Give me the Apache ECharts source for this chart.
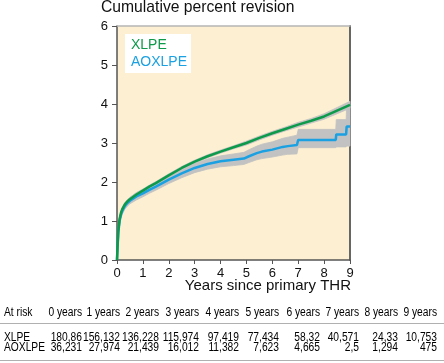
<!DOCTYPE html>
<html>
<head>
<meta charset="utf-8">
<script src="https://cdn.jsdelivr.net/npm/echarts@6/dist/echarts.min.js"></script>
<style>
html,body{margin:0;padding:0;background:#fff;}
#c{width:444px;height:363px;}
</style>
</head>
<body>
<div id="c"></div>
<script>
// ---- data ----
var greenX  = [0,0.02,0.05,0.1,0.15,0.2,0.3,0.4,0.5,0.75,1,1.25,1.5,2,2.5,3,3.5,4,4.5,5,5.5,6,6.5,7,7.5,8,8.5,9];
var greenY  = [0,0.35,0.75,1.05,1.2,1.3,1.42,1.5,1.56,1.68,1.78,1.88,1.97,2.17,2.36,2.52,2.66,2.78,2.89,3.0,3.13,3.25,3.36,3.47,3.57,3.68,3.83,3.98];
var greenLo = [0,0.32,0.7,1.0,1.15,1.25,1.37,1.45,1.51,1.63,1.74,1.84,1.93,2.13,2.32,2.48,2.62,2.74,2.85,2.95,3.08,3.2,3.31,3.41,3.51,3.61,3.75,3.89];
var greenHi = [0,0.38,0.8,1.1,1.25,1.35,1.47,1.55,1.61,1.73,1.82,1.92,2.01,2.21,2.4,2.56,2.7,2.82,2.93,3.05,3.18,3.3,3.41,3.53,3.63,3.75,3.91,4.07];

var blueX  = [0,0.02,0.05,0.1,0.15,0.2,0.3,0.4,0.5,0.75,1,1.25,1.5,2,2.5,3,3.5,4,4.5,4.9,5.1,5.4,5.6,6,6.4,6.6,6.95,7.0,8.45,8.47,8.85,8.87,9];
var blueY  = [0,0.3,0.7,1.0,1.15,1.25,1.38,1.46,1.52,1.63,1.71,1.8,1.88,2.06,2.22,2.36,2.46,2.53,2.57,2.6,2.66,2.74,2.78,2.83,2.9,2.92,2.95,3.08,3.08,3.22,3.22,3.42,3.42];
var blueLo = [0,0.26,0.64,0.93,1.07,1.17,1.3,1.38,1.44,1.54,1.62,1.71,1.79,1.96,2.11,2.24,2.33,2.39,2.42,2.45,2.5,2.57,2.6,2.64,2.69,2.71,2.72,2.88,2.88,2.9,2.9,2.92,2.92];
var blueHi = [0,0.34,0.76,1.07,1.23,1.33,1.46,1.54,1.6,1.72,1.8,1.89,1.97,2.16,2.33,2.48,2.59,2.67,2.72,2.76,2.83,2.92,2.97,3.03,3.12,3.15,3.2,3.35,3.35,3.6,3.6,3.95,3.95];

var xTicks = [0,1,2,3,4,5,6,7,8,9];
var yTicks = [0,1,2,3,4,5,6];

var atRiskHeaders = ['0 years','1 years','2 years','3 years','4 years','5 years','6 years','7 years','8 years','9 years'];
var xlpeAtRisk   = ['180,86','156,132','136,228','115,974','97,419','77,434','58,32','40,571','24,33','10,753'];
var aoxlpeAtRisk = ['36,231','27,974','21,439','16,012','11,382','7,623','4,665','2,5','1,294','475'];

// ---- build ----
function pairs(xs, ys){ return xs.map(function(x,i){ return [x, ys[i]]; }); }

var GREEN = '#0d9a4a', BLUE = '#1ba1e2', BAND = '#c2c2c2', BG = '#fdf0d2';
var FONT = '"Liberation Sans", Arial, sans-serif';

function bandSeries(xs, lo, hi){
  return {
    type:'custom', xAxisIndex:0, yAxisIndex:0, silent:true, z:1,
    data:[[xs[0], lo[0]]],
    renderItem:function(params, api){
      var pts = [], i;
      for (i = 0; i < xs.length; i++) pts.push(api.coord([xs[i], hi[i]]));
      for (i = xs.length - 1; i >= 0; i--) pts.push(api.coord([xs[i], lo[i]]));
      return {type:'polygon', shape:{points:pts}, style:{fill:BAND, stroke:BAND, lineWidth:0.8}};
    }
  };
}

var chart = echarts.init(document.getElementById('c'), null, {renderer:'canvas'});

var colRight = [82,120,159,199,239,279,320,359,398,437];
var tableEls = [];
var tfont = '12.5px ' + FONT;
var SX = 0.82;
function tx(x, y, text, align){
  return {type:'text', x:x, y:y, scaleX:SX, style:{text:text, font:tfont, fill:'#000', textAlign:align, textVerticalAlign:'top'}};
}
tableEls.push(tx(4, 306.5, 'At risk', 'left'));
tableEls.push(tx(4, 331.5, 'XLPE', 'left'));
tableEls.push(tx(4, 341.5, 'AOXLPE', 'left'));
atRiskHeaders.forEach(function(h,i){
  tableEls.push(tx(colRight[i], 306.5, h, 'right'));
  tableEls.push(tx(colRight[i], 331.5, xlpeAtRisk[i], 'right'));
  tableEls.push(tx(colRight[i], 341.5, aoxlpeAtRisk[i], 'right'));
});
tableEls.push({type:'line', shape:{x1:0,y1:323.5,x2:444,y2:323.5}, style:{stroke:'#b0b0b0', lineWidth:1}});
tableEls.push({type:'line', shape:{x1:0,y1:360.5,x2:444,y2:360.5}, style:{stroke:'#b0b0b0', lineWidth:1}});

var option = {
  animation:false,
  backgroundColor:'#fff',
  textStyle:{fontFamily:FONT},
  grid:{left:117, right:94, top:26, bottom:103, show:true, backgroundColor:BG, borderWidth:0},
  xAxis:[{
    type:'value', min:0, max:9, interval:1,
    axisLine:{show:true, onZero:false, lineStyle:{color:'#555', width:1.5}},
    axisTick:{show:true, length:4, lineStyle:{color:'#555'}},
    axisLabel:{fontSize:13, color:'#111', margin:7, fontFamily:FONT},
    splitLine:{show:false}
  },{
    type:'value', position:'top', min:0, max:9, interval:1,
    axisLine:{show:true, onZero:false, lineStyle:{color:'#b5b5b5', width:1.5}},
    axisTick:{show:false}, axisLabel:{show:false}, splitLine:{show:false}
  }],
  yAxis:[{
    type:'value', min:0, max:6, interval:1,
    axisLine:{show:true, onZero:false, lineStyle:{color:'#555', width:1.5}},
    axisTick:{show:true, length:5, lineStyle:{color:'#555'}},
    axisLabel:{fontSize:13, color:'#111', margin:9, fontFamily:FONT},
    splitLine:{show:false}
  },{
    type:'value', position:'right', min:0, max:6, interval:1,
    axisLine:{show:true, onZero:false, lineStyle:{color:'#666', width:2}},
    axisTick:{show:false}, axisLabel:{show:false}, splitLine:{show:false}
  }],
  series:[
    bandSeries(greenX, greenLo, greenHi),
    bandSeries(blueX, blueLo, blueHi),
    {type:'line', name:'AOXLPE', data:pairs(blueX, blueY), symbol:'none', lineStyle:{color:BLUE, width:2.5}, z:3},
    {type:'line', name:'XLPE', data:pairs(greenX, greenY), symbol:'none', lineStyle:{color:GREEN, width:2.5}, z:4}
  ],
  graphic:[
    {type:'text', left:101, top:0, style:{text:'Cumulative percent revision', font:'15.7px ' + FONT, fill:'#111'}},
    {type:'text', x:351, y:278, style:{text:'Years since primary THR', font:'15px ' + FONT, fill:'#111', textAlign:'right', textVerticalAlign:'top'}},
    {type:'rect', shape:{x:125, y:34, width:66, height:39}, style:{fill:'#fff'}, z:10},
    {type:'text', x:131, y:45.5, style:{text:'XLPE', font:'14px ' + FONT, fill:GREEN, textVerticalAlign:'middle'}, z:11},
    {type:'text', x:131, y:62, style:{text:'AOXLPE', font:'14px ' + FONT, fill:BLUE, textVerticalAlign:'middle'}, z:11}
  ].concat(tableEls)
};
chart.setOption(option);
</script>
</body>
</html>
